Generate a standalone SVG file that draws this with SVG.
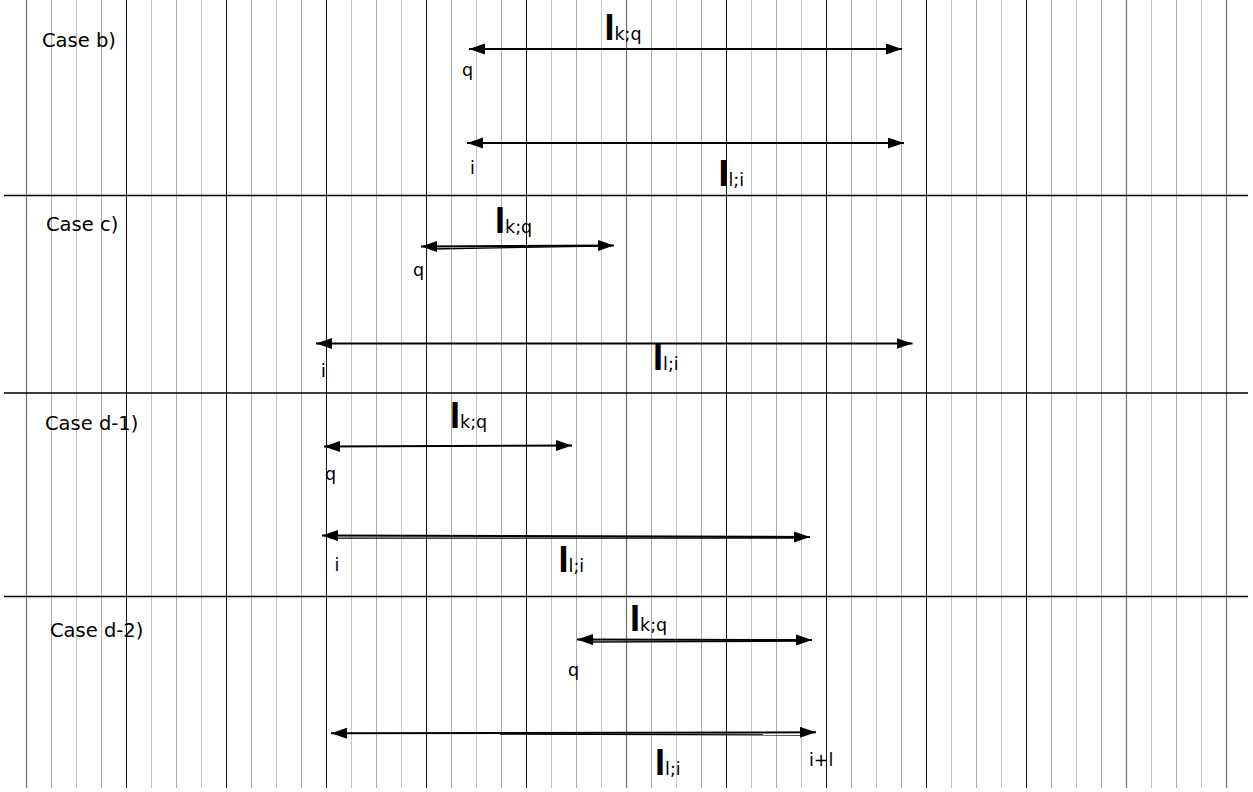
<svg xmlns="http://www.w3.org/2000/svg" width="1253" height="792" viewBox="0 0 1253 792">
<style>
.minor{stroke:#aaaaaa;stroke-width:1;fill:none}
.minor2{stroke:#c4c4c4;stroke-width:1;fill:none}
.major{stroke:#111111;stroke-width:1;fill:none}
.majorg{stroke:#707070;stroke-width:1.2;fill:none}
.sep{stroke:#000000;stroke-width:1.3;fill:none}
.arr{stroke:#000000;stroke-width:2;fill:none;marker-start:url(#ah);marker-end:url(#ah)}
.thin{stroke:#000000;stroke-width:1.3;fill:none}
.case{font-family:"DejaVu Sans",Verdana,sans-serif;font-size:19.5px;fill:#000}
.lbl{font-family:"DejaVu Sans",Verdana,sans-serif;font-size:17.5px;fill:#000}
.big{font-family:"Liberation Sans",Arial,sans-serif;font-size:36px;font-weight:bold;fill:#000}
.sub{font-family:"DejaVu Sans",Verdana,sans-serif;font-size:17.5px;font-weight:normal}
</style>
<defs>
<marker id="ah" markerUnits="userSpaceOnUse" markerWidth="17" markerHeight="12" refX="16" refY="5.5" orient="auto-start-reverse">
<path d="M0,0 L16,5.5 L0,11 z" fill="#000"/>
</marker>
</defs>
<rect x="0" y="0" width="1253" height="792" fill="#ffffff"/>
<g id="grid">
<path class="minor" d="M51.5,0V788M101.5,0V788M176.5,0V788M251.5,0V788M301.5,0V788M376.5,0V788M451.5,0V788M501.5,0V788M576.5,0V788M651.5,0V788M701.5,0V788M776.5,0V788M851.5,0V788M901.5,0V788M976.5,0V788M1051.5,0V788M1101.5,0V788M1176.5,0V788"/>
<path class="minor2" d="M76.5,0V788M151.5,0V788M201.5,0V788M276.5,0V788M351.5,0V788M401.5,0V788M476.5,0V788M551.5,0V788M601.5,0V788M676.5,0V788M751.5,0V788M801.5,0V788M876.5,0V788M951.5,0V788M1001.5,0V788M1076.5,0V788M1151.5,0V788M1201.5,0V788"/>
<path class="major" d="M126.5,0V788M226.5,0V788M326.5,0V788M426.5,0V788M526.5,0V788M726.5,0V788M826.5,0V788M926.5,0V788M1026.5,0V788"/>
<path class="majorg" d="M26.5,0V788M626.5,0V788M1126.5,0V788M1226.5,0V788"/>
<path class="sep" d="M4,195.5H1248M4,393H1248M4,596.5H1248"/>
</g>
<g id="connectors">
<line class="arr" x1="469" y1="49" x2="902" y2="49"/>
<line class="arr" x1="467" y1="143" x2="904" y2="143"/>
<line class="arr" x1="421" y1="246.5" x2="614" y2="245.5"/>
<line class="thin" x1="430" y1="249" x2="600" y2="246.2"/>
<line class="arr" x1="316" y1="343.5" x2="912.5" y2="343.5"/>
<line class="arr" x1="324" y1="446.5" x2="572" y2="445.5"/>
<line class="arr" x1="322" y1="535.5" x2="810" y2="537"/>
<line class="thin" x1="330" y1="538.2" x2="800" y2="538"/>
<line class="arr" x1="577" y1="639.5" x2="812" y2="640"/>
<line class="thin" x1="586" y1="642" x2="800" y2="641.2"/>
<line class="arr" x1="331" y1="733.3" x2="816" y2="732.3"/>
<line class="thin" x1="500" y1="734" x2="805" y2="735"/>
</g>
<g id="case-b">
<text class="case" x="42" y="47">Case b)</text>
<text class="big" x="604.4" y="40">I<tspan class="sub">k;q</tspan></text>
<text class="lbl" x="462" y="76">q</text>
<text class="lbl" x="470" y="174">i</text>
<text class="big" x="718.4" y="186">I<tspan class="sub">l;i</tspan></text>
</g>
<g id="case-c">
<text class="case" x="46" y="231">Case c)</text>
<text class="big" x="495" y="233">I<tspan class="sub">k;q</tspan></text>
<text class="lbl" x="413" y="276">q</text>
<text class="lbl" x="321" y="377">i</text>
<text class="big" x="653" y="370">I<tspan class="sub">l;i</tspan></text>
</g>
<g id="case-d1">
<text class="case" x="45" y="430">Case d-1)</text>
<text class="big" x="450" y="428">I<tspan class="sub">k;q</tspan></text>
<text class="lbl" x="325" y="480">q</text>
<text class="lbl" x="334.5" y="571">i</text>
<text class="big" x="558.5" y="572">I<tspan class="sub">l;i</tspan></text>
</g>
<g id="case-d2">
<text class="case" x="50" y="637">Case d-2)</text>
<text class="big" x="630" y="631">I<tspan class="sub">k;q</tspan></text>
<text class="lbl" x="568" y="676">q</text>
<text class="big" x="655" y="775">I<tspan class="sub">l;i</tspan></text>
<text class="lbl" x="809" y="766">i+l</text>
</g>
</svg>
